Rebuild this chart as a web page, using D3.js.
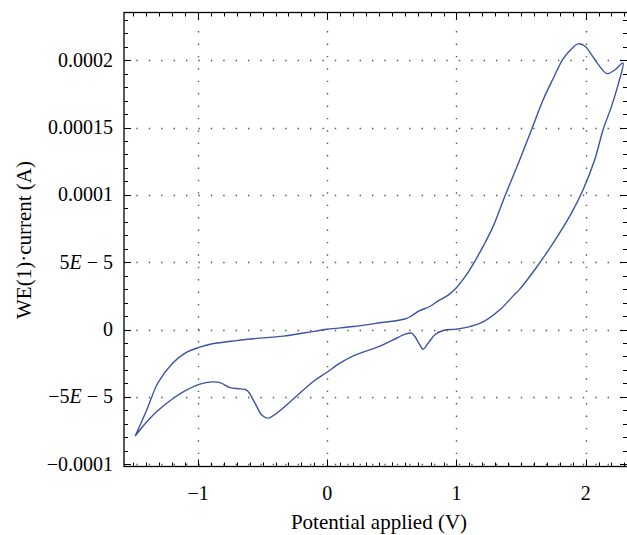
<!DOCTYPE html>
<html>
<head>
<meta charset="utf-8">
<script src="https://cdn.jsdelivr.net/npm/d3@7"></script>
<style>
  body { margin: 0; background: #fff; }
</style>
</head>
<body>
<script>
// forward scan (upper branch), potential in V, current in A
const forwardV = [-1.487, -1.397, -1.31, -1.195, -1.100, -0.998, -0.890, -0.700, -0.520, -0.340,
  -0.159, 0.0, 0.201, 0.408, 0.601, 0.653, 0.712, 0.794, 0.859, 0.936, 1.001, 1.078, 1.142,
  1.206, 1.284, 1.374, 1.490, 1.581, 1.671, 1.748, 1.825, 1.890, 1.941, 1.993, 2.045, 2.109,
  2.166, 2.225, 2.289];
const forwardI = [-7.92e-5, -5.97e-5, -3.95e-5, -2.48e-5, -1.75e-5, -1.34e-5, -1.06e-5, -8.2e-6,
  -6.4e-6, -4.9e-6, -2.2e-6, 0.2e-6, 2.2e-6, 5.0e-6, 7.8e-6, 1.02e-5, 1.39e-5, 1.71e-5, 2.13e-5,
  2.55e-5, 3.12e-5, 4.07e-5, 5.06e-5, 6.17e-5, 7.66e-5, 9.88e-5, 1.261e-4, 1.484e-4, 1.706e-4,
  1.862e-4, 2.010e-4, 2.083e-4, 2.121e-4, 2.105e-4, 2.041e-4, 1.954e-4, 1.900e-4, 1.927e-4,
  1.979e-4];
// reverse scan (lower branch)
const reverseV = [2.289, 2.251, 2.200, 2.135, 2.070, 1.980, 1.890, 1.748, 1.606, 1.490, 1.439,
  1.340, 1.206, 1.104, 1.001, 0.897, 0.833, 0.781, 0.742, 0.712, 0.678, 0.653, 0.609, 0.510,
  0.408, 0.201, 0.098, -0.005, -0.108, -0.250, -0.391, -0.456, -0.507, -0.559, -0.623, -0.675,
  -0.752, -0.830, -0.894, -0.985, -1.087, -1.191, -1.319, -1.423, -1.487];
const reverseI = [1.979e-4, 1.818e-4, 1.657e-4, 1.484e-4, 1.261e-4, 1.038e-4, 8.65e-5, 6.42e-5,
  4.44e-5, 3.0e-5, 2.5e-5, 1.5e-5, 5.6e-6, 2.2e-6, 0.3e-6, -0.7e-6, -3.9e-6, -1.01e-5, -1.46e-5,
  -1.06e-5, -5.2e-6, -2.7e-6, -3.2e-6, -7.7e-6, -1.23e-5, -1.95e-5, -2.5e-5, -3.19e-5, -3.86e-5,
  -5.05e-5, -6.21e-5, -6.58e-5, -6.34e-5, -5.47e-5, -4.5e-5, -4.41e-5, -4.31e-5, -3.94e-5,
  -3.89e-5, -4.05e-5, -4.48e-5, -5.10e-5, -6.09e-5, -7.14e-5, -7.92e-5];

const xTicks = [-1, 0, 1, 2];
const xTickLabels = ["\u22121", "0", "1", "2"];
const yTicks = [-1e-4, -5e-5, 0, 5e-5, 1e-4, 1.5e-4, 2e-4];
// [mantissa/plain text, exponent part] - "E" is set in italics
const yTickLabels = [["\u22120.0001"], ["\u22125", "\u2212 5"], ["0"], ["5", "\u2212 5"],
  ["0.0001"], ["0.00015"], ["0.0002"]];

const width = 627, height = 535;
const plotLeft = 124, plotRight = 627, plotTop = 12.5, plotBottom = 466.5;
const serif = "'Liberation Serif', 'DejaVu Serif', serif";

const x = d3.scaleLinear().domain([-1.573, 2.32]).range([plotLeft, plotRight]);
const y = d3.scaleLinear().domain([-1.017e-4, 2.354e-4]).range([plotBottom, plotTop]);

const svg = d3.select("body").append("svg")
  .attr("width", width)
  .attr("height", height)
  .attr("font-family", serif);

// dotted grid
const grid = svg.append("g")
  .attr("stroke", "#555")
  .attr("stroke-width", 1.4)
  .attr("stroke-dasharray", "1.4,11")
  .attr("fill", "none");
grid.selectAll("line.v").data(xTicks).join("line").attr("class", "v")
  .attr("x1", d => Math.round(x(d)) + 0.5).attr("x2", d => Math.round(x(d)) + 0.5)
  .attr("y1", plotBottom).attr("y2", plotTop);
grid.selectAll("line.h").data(yTicks).join("line").attr("class", "h")
  .attr("y1", d => Math.round(y(d)) + 0.5).attr("y2", d => Math.round(y(d)) + 0.5)
  .attr("x1", plotLeft).attr("x2", plotRight);

// frame
svg.append("rect")
  .attr("x", plotLeft).attr("y", plotTop)
  .attr("width", plotRight - plotLeft + 1).attr("height", plotBottom - plotTop)
  .attr("fill", "none").attr("stroke", "#000").attr("stroke-width", 1.3);

// ticks, inward on all four sides
const xMinor = d3.range(-15, 24).map(d => d / 10).filter(d => !xTicks.includes(d));
const yMinor = d3.range(-10, 24).map(d => d * 1e-5).filter(d => !yTicks.some(t => Math.abs(t - d) < 1e-9));
const tickG = svg.append("g").attr("stroke", "#000").attr("stroke-width", 1);
function xTickLines(vals, len) {
  tickG.selectAll(null).data(vals).join("line")
    .attr("x1", d => Math.round(x(d)) + 0.5).attr("x2", d => Math.round(x(d)) + 0.5)
    .attr("y1", plotBottom).attr("y2", plotBottom - len);
  tickG.selectAll(null).data(vals).join("line")
    .attr("x1", d => Math.round(x(d)) + 0.5).attr("x2", d => Math.round(x(d)) + 0.5)
    .attr("y1", plotTop).attr("y2", plotTop + len);
}
function yTickLines(vals, len) {
  tickG.selectAll(null).data(vals).join("line")
    .attr("y1", d => Math.round(y(d)) + 0.5).attr("y2", d => Math.round(y(d)) + 0.5)
    .attr("x1", plotLeft).attr("x2", plotLeft + len);
  tickG.selectAll(null).data(vals).join("line")
    .attr("y1", d => Math.round(y(d)) + 0.5).attr("y2", d => Math.round(y(d)) + 0.5)
    .attr("x1", plotRight).attr("x2", plotRight - len);
}
xTickLines(xTicks, 7);
xTickLines(xMinor, 4);
yTickLines(yTicks, 7);
yTickLines(yMinor, 4);

// tick labels
svg.append("g").selectAll("text").data(xTicks).join("text")
  .attr("x", d => x(d))
  .attr("y", 500)
  .attr("text-anchor", "middle")
  .attr("font-size", 20)
  .text((d, i) => xTickLabels[i]);

const yLab = svg.append("g").selectAll("text").data(yTicks).join("text")
  .attr("x", 113)
  .attr("y", d => y(d) + 6.5)
  .attr("text-anchor", "end")
  .attr("font-size", 20);
yLab.each(function (d, i) {
  const parts = yTickLabels[i];
  const t = d3.select(this);
  t.append("tspan").text(parts[0]);
  if (parts.length > 1) {
    t.append("tspan").attr("font-style", "italic").text("E");
    t.append("tspan").text(" " + parts[1]);
  }
});

// axis titles
svg.append("text")
  .attr("x", 379).attr("y", 529)
  .attr("text-anchor", "middle")
  .attr("font-size", 21)
  .text("Potential applied (V)");
svg.append("text")
  .attr("transform", "translate(31,240) rotate(-90)")
  .attr("text-anchor", "middle")
  .attr("font-size", 21)
  .text("WE(1)\u00b7current (A)");

// voltammogram loop
const pts = forwardV.map((v, i) => [v, forwardI[i]])
  .concat(reverseV.slice(1).map((v, i) => [v, reverseI[i + 1]]));
svg.append("path")
  .datum(pts)
  .attr("fill", "none")
  .attr("stroke", "#3a54a6")
  .attr("stroke-width", 1.4)
  .attr("stroke-linejoin", "round")
  .attr("d", d3.line().x(d => x(d[0])).y(d => y(d[1])).curve(d3.curveCatmullRom.alpha(0.5)));
</script>
</body>
</html>
